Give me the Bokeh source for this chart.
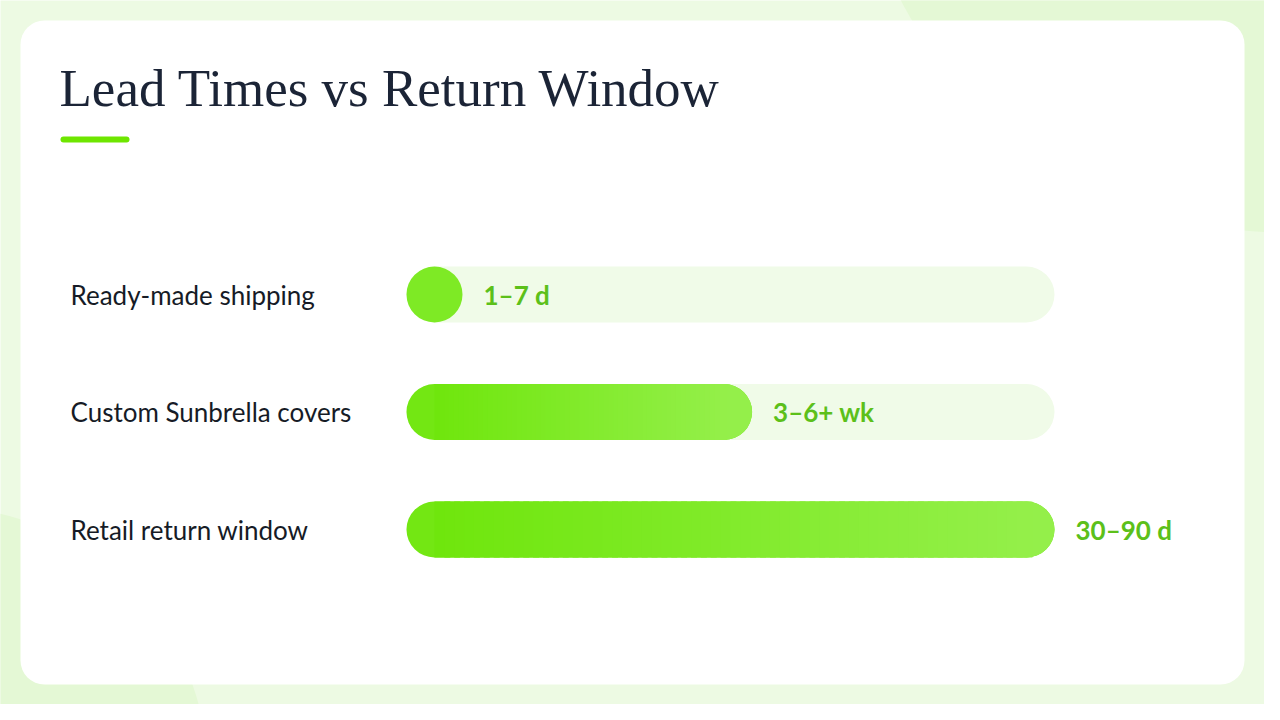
import numpy as np
from bokeh.plotting import figure
from bokeh.models import Range1d, ColumnDataSource
from bokeh.core.properties import value
from bokeh.embed import file_html
from bokeh.resources import INLINE

# ---------------- data ----------------
title = "Lead Times vs Return Window"
categories = ["Ready-made shipping", "Custom Sunbrella covers", "Retail return window"]
values_days = [7, 48, 90]
value_labels = ["1–7 d", "3–6+ wk", "30–90 d"]
scale_max = 90

# ---------------- layout ----------------
W, H = 1264, 704
track_left_px, track_right_px = 406, 1054
row0_px, row_step_px = 294, 117.5
bar_px = 56
BR = 28

dpp = scale_max / (track_right_px - track_left_px)
x_start = -track_left_px * dpp
x_end = (W - track_left_px) * dpp
y_top = -row0_px / row_step_px
y_bottom = (H - row0_px) / row_step_px

BASE_BG = "#edfae3"
BLOB = "#e4f8d5"
TRACK = "#f0fbe8"
G0 = np.array([0x6f, 0xe6, 0x0c])
G1 = np.array([0x94, 0xef, 0x4a])
LABEL_FONT = value("Lato")

p = figure(width=W, height=H, x_range=Range1d(x_start, x_end),
           y_range=Range1d(y_bottom, y_top), output_backend="svg",
           toolbar_location=None, min_border=0)
p.axis.visible = False
p.grid.visible = False
p.outline_line_color = None
p.background_fill_color = BASE_BG
p.border_fill_color = BASE_BG
p.extra_x_ranges = {"px": Range1d(0, W)}
p.extra_y_ranges = {"px": Range1d(H, 0)}

# background blobs
p.circle(x=[1282, -58], y=[-198, 772], radius=[430, 265], x_range_name="px", y_range_name="px",
         fill_color=BLOB, line_color=None)

# card
p.quad(left=[20], right=[1244], top=[20], bottom=[684], x_range_name="px", y_range_name="px",
       border_radius=24, fill_color="white", line_color=None)

# title + accent
p.text(x=[59], y=[87], text=[title], x_range_name="px", y_range_name="px",
       text_baseline="middle", text_font=value("Liberation Serif"),
       text_font_size="53px", text_color="#1b2436")
p.quad(left=[60], right=[129], top=[136], bottom=[142], x_range_name="px", y_range_name="px",
       border_radius=3, fill_color="#6ee600", line_color=None)

rows = list(range(len(categories)))
bh = bar_px / row_step_px
r = bar_px / 2 * dpp

# tracks
p.hbar(y=rows, left=0, right=scale_max, height=bh, fill_color=TRACK, line_color=None,
       border_radius=BR)

def col(t):
    c = G0 + (G1 - G0) * t
    return "#%02x%02x%02x" % tuple(int(round(v)) for v in c)

ends = [max(v, 2 * r) for v in values_days]
base = dict(y=[], left=[], right=[], color=[])
caps = dict(y=[], left=[], right=[], color=[])
sl = dict(y=[], left=[], right=[], color=[])
N = 60
for i, e in zip(rows, ends):
    if e - 2 * r < 1e-6:
        base["y"].append(i); base["left"].append(0); base["right"].append(e); base["color"].append(col(0.4))
        continue
    base["y"].append(i); base["left"].append(0); base["right"].append(e); base["color"].append(col(0.12))
    caps["y"].append(i); caps["left"].append(e - 2 * r); caps["right"].append(e); caps["color"].append(col(1.0))
    edges = np.linspace(r, e - r, N + 1)
    for k in range(N):
        t = (k + 0.5) / N
        sl["y"].append(i)
        sl["left"].append(edges[k])
        sl["right"].append(edges[k + 1] + (edges[1] - edges[0]) * 0.6)
        sl["color"].append(col(t))

p.hbar(y="y", left="left", right="right", height=bh, fill_color="color", line_color=None,
       border_radius=BR, source=ColumnDataSource(base))
p.hbar(y="y", left="left", right="right", height=bh, fill_color="color", line_color=None,
       border_radius=BR, source=ColumnDataSource(caps))
p.hbar(y="y", left="left", right="right", height=bh, fill_color="color", line_color=None,
       source=ColumnDataSource(sl))

# value labels
p.text(x=ends, y=rows, text=value_labels, x_offset=21, text_baseline="middle",
       text_font=LABEL_FONT, text_font_style="bold", text_font_size="26px", text_color="#5cc01a")

# category labels
p.text(x=[70] * len(rows), y=rows, text=categories, x_range_name="px", text_baseline="middle",
       text_font=LABEL_FONT, text_font_size="26px", text_color="#161b26")

open("out.html", "w").write(file_html(p, INLINE))
